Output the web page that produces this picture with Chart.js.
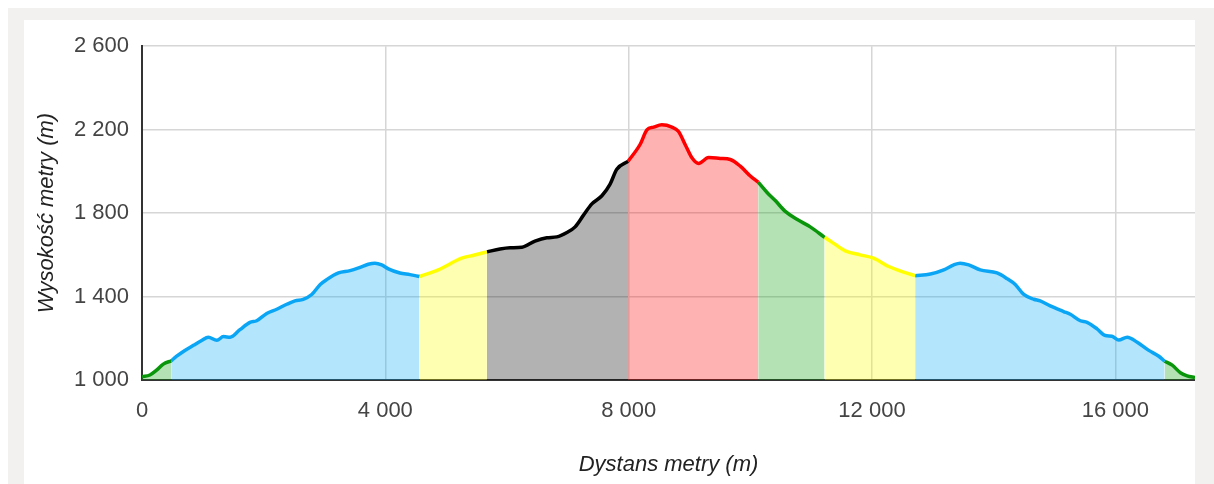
<!DOCTYPE html>
<html>
<head>
    <meta charset="UTF-8">
    <title>Profil wysokości</title>
    <script src="https://cdn.jsdelivr.net/npm/chart.js"></script>
    <style>
        html, body {
            margin: 0;
            padding: 0;
            background: #ffffff;
            width: 1214px;
            height: 484px;
            overflow: hidden;
        }

        #frame {
            position: absolute;
            left: 8px;
            top: 8px;
            width: 1206px;
            height: 476px;
            background: #f2f1f0;
        }

        #panel {
            position: absolute;
            left: 24px;
            top: 20px;
            width: 1171px;
            height: 464px;
            background: #ffffff;
        }
    </style>
</head>
<body>
<div id="frame"></div>
<div id="panel">
    <canvas id="profileChart"></canvas>
</div>

<script>
    // distance along the route (m) and elevation (m)
    var distance = [
        0, 130, 240, 350, 480, 570, 680, 845, 980, 1090, 1230, 1340, 1450, 1610, 1775, 1885,
        2050, 2215, 2380, 2515, 2650, 2790, 2930, 3035, 3230, 3420, 3585, 3720, 3830, 3940,
        4050, 4240, 4405, 4560, 4870, 5255, 5450, 5670, 5885, 6050, 6245, 6460, 6655, 6820,
        6985, 7120, 7255, 7395, 7560, 7695, 7805, 7990, 8190, 8300, 8410, 8545, 8710, 8820,
        8930, 9040, 9150, 9315, 9505, 9670, 9835, 10000, 10130, 10275, 10410, 10575, 10765,
        10985, 11220, 11370, 11560, 11805, 12025, 12275, 12520, 12710, 12960, 13180, 13345,
        13450, 13590, 13780, 14055, 14220, 14355, 14495, 14660, 14765, 14930, 15150, 15260,
        15425, 15535, 15700, 15835, 15945, 16055, 16195, 16360, 16550, 16715, 16810, 16935,
        17070, 17180, 17310
    ];
    var elevation = [
        1016, 1024, 1047, 1076, 1092, 1114, 1137, 1166, 1189, 1205, 1190, 1208, 1205, 1241, 1276, 1284,
        1319, 1339, 1363, 1379, 1387, 1410, 1458, 1481, 1513, 1524, 1540, 1555, 1560, 1552,
        1533, 1513, 1505, 1496, 1528, 1584, 1598, 1614, 1628, 1634, 1636, 1666, 1682, 1686,
        1707, 1734, 1789, 1844, 1883, 1939, 2010, 2048, 2130, 2199, 2212, 2223, 2212, 2191,
        2128, 2065, 2038, 2066, 2062, 2057, 2025, 1978, 1948, 1899, 1860, 1808, 1770,
        1734, 1684, 1655, 1619, 1600, 1584, 1544, 1517, 1500, 1508, 1528, 1552,
        1560, 1552, 1528, 1513, 1486, 1458, 1410, 1387, 1379, 1355, 1328, 1315,
        1284, 1276, 1245, 1213, 1210, 1192, 1205, 1181, 1142, 1114, 1090, 1071,
        1035, 1020, 1012
    ];

    // where each coloured section starts / ends (m) and its colour
    var sectionBreaks = [0, 480, 4560, 5670, 7990, 10130, 11220, 12710, 16810, 17310];
    var sectionColors = ['green', 'blue', 'yellow', 'black', 'red', 'green', 'yellow', 'blue', 'green'];

    var xTicks = [0, 4000, 8000, 12000, 16000];
    var yTicks = [1000, 1400, 1800, 2200, 2600];

    var palette = {
        green:  { line: '#0a960a', fill: 'rgba(10, 160, 10, 0.3)' },
        blue:   { line: '#0aa6f5', fill: 'rgba(3, 169, 244, 0.3)' },
        yellow: { line: '#ffff00', fill: 'rgba(255, 255, 0, 0.3)' },
        black:  { line: '#000000', fill: 'rgba(0, 0, 0, 0.3)' },
        red:    { line: '#ff0000', fill: 'rgba(255, 0, 0, 0.3)' }
    };

    function fmt(v) {
        return String(v).replace(/\B(?=(\d{3})+(?!\d))/g, ' ');
    }

    var datasets = [];
    for (var s = 0; s < sectionColors.length; s++) {
        var pts = [];
        for (var i = 0; i < distance.length; i++) {
            if (distance[i] >= sectionBreaks[s] && distance[i] <= sectionBreaks[s + 1]) {
                pts.push({ x: distance[i], y: elevation[i] });
            }
        }
        var c = palette[sectionColors[s]];
        datasets.push({
            data: pts,
            borderColor: c.line,
            backgroundColor: c.fill,
            borderWidth: 3.5,
            pointRadius: 0,
            fill: 'start',
            cubicInterpolationMode: 'monotone'
        });
    }

    var fontFamily = "Arial, 'Liberation Sans', sans-serif";

    var ctx = document.getElementById('profileChart').getContext('2d');
    var profileChart = new Chart(ctx, {
        type: 'line',
        data: { datasets: datasets },
        options: {
            responsive: true,
            maintainAspectRatio: false,
            animation: false,
            layout: { padding: { top: 21, right: 0, left: 0, bottom: 0 } },
            plugins: {
                legend: { display: false },
                tooltip: { enabled: false }
            },
            scales: {
                x: {
                    type: 'linear',
                    min: 0,
                    max: distance[distance.length - 1],
                    afterBuildTicks: function (scale) {
                        scale.ticks = xTicks.map(function (v) { return { value: v }; });
                    },
                    afterFit: function (scale) { scale.height = 104; },
                    grid: { color: '#d6d6d6', lineWidth: 1.5, drawTicks: false },
                    border: { color: '#333333', width: 2 },
                    ticks: {
                        padding: 18,
                        color: '#444444',
                        font: { family: fontFamily, size: 22 },
                        callback: function (v) { return fmt(v); }
                    },
                    title: {
                        display: true,
                        text: 'Dystans metry (m)',
                        color: '#222222',
                        font: { family: fontFamily, size: 22, style: 'italic' },
                        padding: { top: 0, bottom: 6 }
                    }
                },
                y: {
                    min: 1000,
                    max: 2600,
                    afterBuildTicks: function (scale) {
                        scale.ticks = yTicks.map(function (v) { return { value: v }; });
                    },
                    afterFit: function (scale) { scale.width = 118; },
                    grid: { color: '#d6d6d6', lineWidth: 1.5, drawTicks: false },
                    border: { color: '#333333', width: 2 },
                    ticks: {
                        padding: 13,
                        color: '#444444',
                        font: { family: fontFamily, size: 22 },
                        callback: function (v) { return fmt(v); }
                    },
                    title: {
                        display: true,
                        text: 'Wysokość metry (m)',
                        color: '#222222',
                        font: { family: fontFamily, size: 22, style: 'italic' },
                        padding: { top: 10, bottom: 0 }
                    }
                }
            }
        }
    });
</script>
</body>
</html>
